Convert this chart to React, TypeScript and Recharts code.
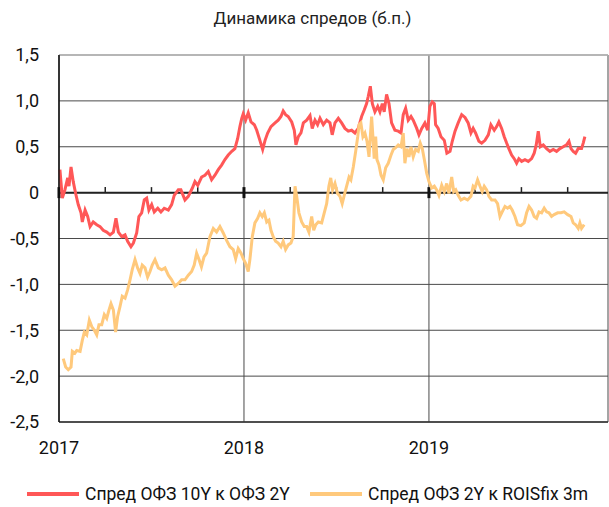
import { CartesianGrid, Line, LineChart, ReferenceLine, XAxis, YAxis } from "recharts";

const FONT = 'Roboto, "Liberation Sans", sans-serif';
const RED = "#ff5757";
const ORANGE = "#ffc97c";

// время в годах от начала 2017
const redT = [
  0.005, 0.018, 0.032, 0.047, 0.054, 0.065, 0.077, 0.09, 0.104, 0.119, 0.126, 0.141, 0.155, 0.168, 0.185, 0.204,
  0.222, 0.239, 0.258, 0.276, 0.294, 0.308, 0.321, 0.339, 0.357, 0.371, 0.389, 0.402, 0.42, 0.432, 0.447, 0.461,
  0.474, 0.486, 0.501, 0.515, 0.534, 0.551, 0.569, 0.591, 0.609, 0.623, 0.645, 0.659, 0.681, 0.699, 0.721, 0.735,
  0.75, 0.771, 0.789, 0.807, 0.825, 0.843, 0.861, 0.879, 0.897, 0.915, 0.934, 0.951, 0.966, 0.978, 0.988, 0.996,
  1.009, 1.023, 1.038, 1.056, 1.069, 1.086, 1.101, 1.114, 1.128, 1.146, 1.168, 1.185, 1.2, 1.212, 1.225, 1.239,
  1.258, 1.272, 1.281, 1.294, 1.308, 1.321, 1.339, 1.357, 1.369, 1.384, 1.398, 1.411, 1.429, 1.447, 1.465, 1.477,
  1.492, 1.51, 1.528, 1.546, 1.564, 1.582, 1.6, 1.618, 1.636, 1.65, 1.663, 1.672, 1.683, 1.694, 1.708, 1.723,
  1.735, 1.748, 1.758, 1.771, 1.784, 1.798, 1.816, 1.834, 1.849, 1.861, 1.874, 1.888, 1.903, 1.915, 1.934, 1.946,
  1.961, 1.978, 1.993, 2.005, 2.018, 2.029, 2.036, 2.05, 2.065, 2.083, 2.097, 2.114, 2.126, 2.141, 2.158, 2.177,
  2.195, 2.212, 2.227, 2.239, 2.252, 2.27, 2.285, 2.303, 2.321, 2.335, 2.353, 2.366, 2.378, 2.393, 2.407, 2.42,
  2.432, 2.447, 2.461, 2.474, 2.486, 2.501, 2.519, 2.537, 2.555, 2.569, 2.58, 2.591, 2.602, 2.618, 2.636, 2.654,
  2.672, 2.69, 2.708, 2.726, 2.744, 2.757, 2.768, 2.78, 2.793, 2.807, 2.825, 2.834, 2.843,
];
const redV = [
  0.25, -0.06, 0.03, 0.16, 0.07, 0.28, 0.12, -0.01, -0.13, -0.22, -0.32, -0.19, -0.26, -0.37, -0.32, -0.35,
  -0.37, -0.41, -0.43, -0.46, -0.43, -0.28, -0.43, -0.48, -0.46, -0.53, -0.59, -0.55, -0.44, -0.26, -0.22, -0.08,
  -0.06, -0.19, -0.13, -0.21, -0.17, -0.21, -0.17, -0.19, -0.13, -0.03, 0.03, 0.03, -0.08, -0.04, 0.05, 0.12,
  0.08, 0.17, 0.19, 0.23, 0.14, 0.19, 0.25, 0.3, 0.36, 0.41, 0.45, 0.48, 0.59, 0.72, 0.81, 0.86,
  0.79, 0.87, 0.77, 0.74, 0.68, 0.57, 0.47, 0.57, 0.65, 0.72, 0.76, 0.79, 0.83, 0.89, 0.85, 0.83,
  0.77, 0.68, 0.52, 0.61, 0.65, 0.76, 0.79, 0.84, 0.7, 0.79, 0.74, 0.81, 0.74, 0.79, 0.76, 0.63,
  0.76, 0.81, 0.76, 0.7, 0.67, 0.68, 0.65, 0.7, 0.83, 0.9, 0.97, 1.05, 1.16, 0.97, 0.88, 0.94,
  0.88, 0.97, 0.88, 1.07, 0.97, 0.76, 0.68, 0.67, 0.65, 0.85, 0.92, 0.79, 0.83, 0.79, 0.7, 0.63,
  0.7, 0.76, 0.68, 0.94, 0.99, 0.97, 0.74, 0.7, 0.61, 0.57, 0.43, 0.45, 0.56, 0.67, 0.76, 0.85,
  0.82, 0.76, 0.65, 0.7, 0.65, 0.56, 0.54, 0.57, 0.63, 0.74, 0.68, 0.72, 0.77, 0.7, 0.61, 0.54,
  0.48, 0.41, 0.37, 0.32, 0.37, 0.34, 0.36, 0.34, 0.37, 0.43, 0.52, 0.67, 0.5, 0.52, 0.48, 0.45,
  0.47, 0.45, 0.48, 0.5, 0.52, 0.56, 0.48, 0.45, 0.43, 0.48, 0.48, 0.54, 0.61,
];

const orangeT = [
  0.023, 0.036, 0.05, 0.065, 0.072, 0.086, 0.096, 0.114, 0.126, 0.137, 0.15, 0.164, 0.177, 0.191, 0.204, 0.216,
  0.231, 0.245, 0.258, 0.27, 0.281, 0.294, 0.306, 0.317, 0.33, 0.342, 0.357, 0.371, 0.384, 0.396, 0.411, 0.425,
  0.438, 0.45, 0.465, 0.479, 0.492, 0.504, 0.519, 0.537, 0.555, 0.573, 0.591, 0.609, 0.627, 0.645, 0.663, 0.681,
  0.699, 0.717, 0.731, 0.744, 0.757, 0.77, 0.784, 0.798, 0.816, 0.834, 0.852, 0.87, 0.888, 0.906, 0.924, 0.942,
  0.955, 0.969, 0.984, 0.996, 1.009, 1.023, 1.032, 1.045, 1.059, 1.074, 1.086, 1.099, 1.11, 1.123, 1.135, 1.146,
  1.158, 1.171, 1.185, 1.2, 1.212, 1.225, 1.239, 1.254, 1.266, 1.276, 1.285, 1.297, 1.312, 1.326, 1.339, 1.351,
  1.366, 1.377, 1.388, 1.402, 1.42, 1.434, 1.447, 1.459, 1.469, 1.479, 1.492, 1.506, 1.519, 1.531, 1.542, 1.555,
  1.568, 1.578, 1.591, 1.604, 1.615, 1.622, 1.632, 1.643, 1.654, 1.665, 1.676, 1.683, 1.69, 1.697, 1.704, 1.712,
  1.719, 1.73, 1.741, 1.753, 1.766, 1.78, 1.795, 1.807, 1.82, 1.834, 1.849, 1.861, 1.87, 1.881, 1.892, 1.903,
  1.915, 1.928, 1.942, 1.953, 1.964, 1.975, 1.988, 2.0, 2.015, 2.029, 2.042, 2.054, 2.069, 2.083, 2.096, 2.108,
  2.123, 2.134, 2.145, 2.158, 2.173, 2.191, 2.209, 2.227, 2.239, 2.249, 2.263, 2.276, 2.288, 2.299, 2.312, 2.324,
  2.339, 2.357, 2.371, 2.384, 2.396, 2.411, 2.425, 2.438, 2.45, 2.465, 2.479, 2.497, 2.515, 2.528, 2.541, 2.555,
  2.569, 2.582, 2.595, 2.609, 2.623, 2.636, 2.649, 2.663, 2.677, 2.696, 2.714, 2.731, 2.75, 2.768, 2.78, 2.793,
  2.807, 2.816, 2.825, 2.839,
];
const orangeV = [
  -1.81, -1.9, -1.93, -1.9, -1.73, -1.75, -1.72, -1.73, -1.61, -1.52, -1.55, -1.39, -1.46, -1.5, -1.55, -1.44,
  -1.44, -1.33, -1.37, -1.28, -1.21, -1.28, -1.52, -1.35, -1.24, -1.13, -1.15, -1.06, -0.95, -0.84, -0.73, -0.82,
  -0.88, -0.79, -0.82, -0.92, -0.86, -0.79, -0.73, -0.82, -0.84, -0.82, -0.9, -0.95, -1.02, -0.99, -0.95, -0.95,
  -0.9, -0.86, -0.79, -0.66, -0.73, -0.81, -0.7, -0.66, -0.48, -0.39, -0.43, -0.37, -0.44, -0.52, -0.59, -0.62,
  -0.72, -0.61, -0.66, -0.72, -0.77, -0.86, -0.73, -0.48, -0.33, -0.28, -0.22, -0.26, -0.22, -0.32, -0.3, -0.41,
  -0.48, -0.53, -0.55, -0.59, -0.53, -0.62, -0.57, -0.55, -0.48, 0.07, -0.04, -0.22, -0.32, -0.37, -0.37, -0.43,
  -0.26, -0.41, -0.35, -0.32, -0.33, -0.22, -0.12, 0.07, 0.16, 0.03, 0.1, -0.01, -0.04, -0.12, -0.03, 0.07,
  0.17, 0.14, 0.28, 0.45, 0.61, 0.74, 0.76, 0.61, 0.65, 0.56, 0.39, 0.61, 0.83, 0.61, 0.37, 0.61,
  0.36, 0.3, 0.19, 0.14, 0.27, 0.32, 0.41, 0.47, 0.49, 0.52, 0.5, 0.65, 0.32, 0.48, 0.39, 0.5,
  0.39, 0.47, 0.45, 0.54, 0.48, 0.36, 0.21, 0.12, 0.05, 0.07, 0.03, -0.03, 0.08, 0.01, 0.1, -0.01,
  0.17, 0.01, 0.03, -0.03, -0.08, -0.06, -0.08, -0.04, 0.07, 0.05, 0.14, 0.07, 0.01, 0.07, 0.03, -0.04,
  -0.08, -0.08, -0.12, -0.26, -0.21, -0.15, -0.17, -0.15, -0.19, -0.26, -0.35, -0.36, -0.33, -0.22, -0.15, -0.19,
  -0.26, -0.28, -0.21, -0.22, -0.17, -0.21, -0.22, -0.26, -0.24, -0.22, -0.22, -0.21, -0.24, -0.26, -0.33, -0.35,
  -0.39, -0.33, -0.39, -0.35,
];

const yTicks = [-2.5, -2, -1.5, -1, -0.5, 0, 0.5, 1, 1.5];
const yearTicks = [0, 1, 2];
const yearLabels = ["2017", "2018", "2019"];
const quarterTicks = [0.25, 0.5, 0.75, 1.25, 1.5, 1.75, 2.25, 2.5, 2.75];

const seriesNames = ["Спред ОФЗ 10Y к ОФЗ 2Y", "Спред ОФЗ 2Y к ROISfix 3m"];

const redData = redT.map((t, i) => ({ t, v: redV[i] }));
const orangeData = orangeT.map((t, i) => ({ t, v: orangeV[i] }));

const fmtY = (v: number) => (v === 0 ? "0" : v.toFixed(1).replace(".", ","));

const LegendRow = () => (
  <div
    style={{
      position: "absolute",
      left: 0,
      top: 484,
      width: 609,
      height: 24,
      fontFamily: FONT,
      fontSize: 17.5,
      color: "#111",
    }}
  >
    {[
      { color: RED, left: 27, name: seriesNames[0] },
      { color: ORANGE, left: 310, name: seriesNames[1] },
    ].map((it) => (
      <div key={it.name} style={{ position: "absolute", left: it.left, top: 0, display: "flex", alignItems: "center" }}>
        <span style={{ display: "inline-block", width: 52, height: 4, background: it.color, marginRight: 6 }} />
        <span>{it.name}</span>
      </div>
    ))}
  </div>
);

export default function App() {
  return (
    <div style={{ position: "absolute", left: 0, top: 0, width: 609, height: 507, background: "#fff" }}>
      <div
        style={{
          position: "absolute",
          top: 8,
          left: 0,
          width: 625,
          textAlign: "center",
          fontFamily: FONT,
          fontSize: 17,
          color: "#222",
        }}
      >
        Динамика спредов (б.п.)
      </div>
      <LineChart width={609} height={507} margin={{ top: 55, right: 1, bottom: 55, left: 0 }}>
        <CartesianGrid stroke="#4a4a4a" strokeWidth={1} />
        <XAxis
          type="number"
          dataKey="t"
          domain={[0, 2.968]}
          ticks={yearTicks}
          tickFormatter={(v: number) => yearLabels[v] ?? ""}
          height={30}
          axisLine={false}
          tickLine={false}
          tickMargin={13}
          tick={{ fill: "#111", fontSize: 18, fontFamily: FONT }}
          allowDuplicatedCategory={false}
        />
        <YAxis
          type="number"
          domain={[-2.5, 1.5]}
          ticks={yTicks}
          tickFormatter={fmtY}
          width={59}
          axisLine={{ stroke: "#111", strokeWidth: 1.5 }}
          tickLine={false}
          tickMargin={14}
          tick={{ fill: "#111", fontSize: 18, fontFamily: FONT }}
        />
        <ReferenceLine y={1.5} stroke="#bdbdbd" strokeWidth={1.5} />
        <ReferenceLine y={-2.5} stroke="#333" strokeWidth={1.5} />
        <ReferenceLine y={0} stroke="#222" strokeWidth={2} />
        {quarterTicks.map((q) => (
          <ReferenceLine
            key={q}
            segment={[
              { x: q, y: 0 },
              { x: q, y: 0.06 },
            ]}
            stroke="#222"
            strokeWidth={1.5}
          />
        ))}
        {yearTicks.map((q) => (
          <ReferenceLine
            key={"y" + q}
            segment={[
              { x: q, y: -0.06 },
              { x: q, y: 0.06 },
            ]}
            stroke="#111"
            strokeWidth={3}
          />
        ))}
        <Line
          data={redData}
          dataKey="v"
          type="linear"
          stroke={RED}
          strokeWidth={3}
          dot={false}
          isAnimationActive={false}
          name={seriesNames[0]}
        />
        <Line
          data={orangeData}
          dataKey="v"
          type="linear"
          stroke={ORANGE}
          strokeWidth={3}
          dot={false}
          isAnimationActive={false}
          name={seriesNames[1]}
        />
      </LineChart>
      <LegendRow />
    </div>
  );
}
